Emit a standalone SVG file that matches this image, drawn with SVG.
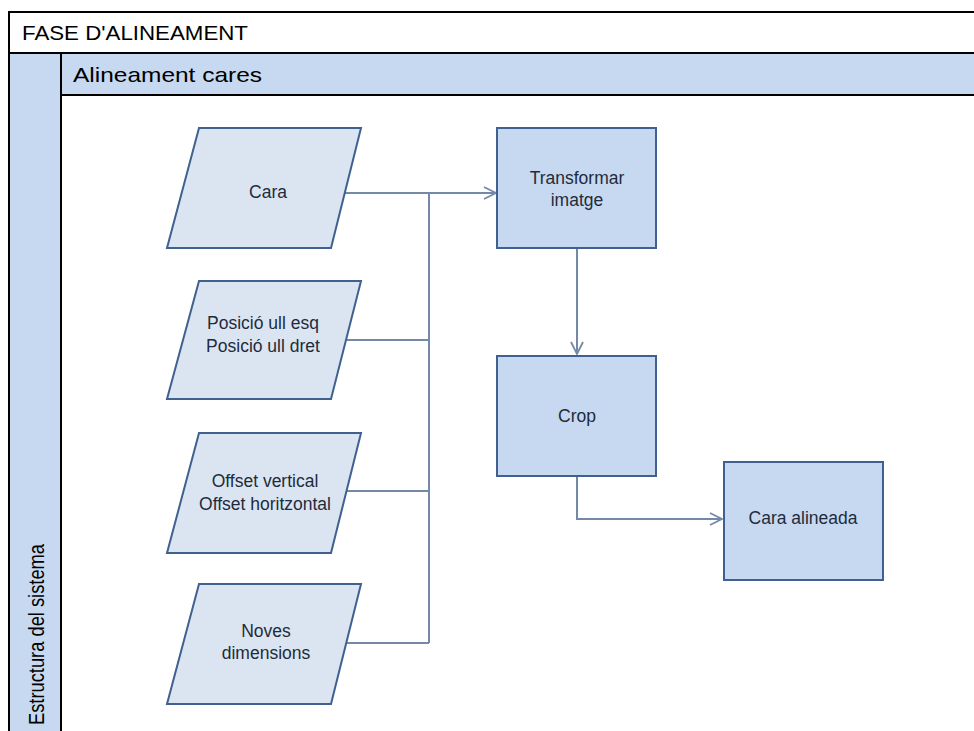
<svg xmlns="http://www.w3.org/2000/svg" width="974" height="731" viewBox="0 0 974 731">
  <style>
    .frame { stroke: #000; stroke-width: 2; fill: none; }
    .band { fill: #c6d9f1; }
    .title { font-family: "Liberation Sans", Arial, sans-serif; fill: #000; }
    .io { fill: #dbe5f2; stroke: #40618f; stroke-width: 2; }
    .proc { fill: #c6d9f1; stroke: #40618f; stroke-width: 2; }
    .lbl { font-family: "Liberation Sans", Arial, sans-serif; font-size: 17.5px; fill: #1f2b3b; text-anchor: middle; }
    .wire { fill: none; stroke: #7489a8; stroke-width: 2; }
  </style>
  <defs>
    <marker id="open-arrow" viewBox="0 0 14 14" refX="13" refY="7" markerWidth="14" markerHeight="14" markerUnits="userSpaceOnUse" orient="auto">
      <path d="M1,1 L13,7 L1,13" fill="none" stroke="#7489a8" stroke-width="1.8"/>
    </marker>
  </defs>

  <rect width="974" height="731" fill="#fff"/>

  <!-- swimlane table -->
  <g id="table">
    <rect class="band" x="9" y="53" width="52" height="678"/>
    <rect class="band" x="61" y="53" width="913" height="42"/>
    <path class="frame" d="M8,12 H974 M9,12 V731 M8,53 H974 M61,95 H974 M61,53 V731"/>
    <text class="title" x="22" y="40" font-size="21" textLength="226" lengthAdjust="spacingAndGlyphs">FASE D'ALINEAMENT</text>
    <text class="title" x="73" y="82" font-size="21" textLength="189" lengthAdjust="spacingAndGlyphs">Alineament cares</text>
    <text class="title" transform="translate(44,725) rotate(-90)" font-size="22" textLength="181" lengthAdjust="spacingAndGlyphs">Estructura del sistema</text>
  </g>

  <!-- connectors -->
  <g id="connectors">
    <path class="wire" d="M344,193 H496" marker-end="url(#open-arrow)"/>
    <path class="wire" d="M429,193 V643"/>
    <path class="wire" d="M345,340 H429"/>
    <path class="wire" d="M345,491 H429"/>
    <path class="wire" d="M346,643 H429"/>
    <path class="wire" d="M577,248 V354" marker-end="url(#open-arrow)"/>
    <path class="wire" d="M577,476 V519 H722" marker-end="url(#open-arrow)"/>
  </g>

  <!-- input data -->
  <g id="cara">
    <polygon class="io" points="199,128 361,128 331,248 167,248"/>
    <text class="lbl" x="268" y="198">Cara</text>
  </g>
  <g id="posicio-ulls">
    <polygon class="io" points="199,281 361,281 331,399 167,399"/>
    <text class="lbl" x="263" y="329">Posició ull esq</text>
    <text class="lbl" x="263" y="352">Posició ull dret</text>
  </g>
  <g id="offsets">
    <polygon class="io" points="199,433 361,433 331,553 167,553"/>
    <text class="lbl" x="265" y="487">Offset vertical</text>
    <text class="lbl" x="265" y="510">Offset horitzontal</text>
  </g>
  <g id="noves-dimensions">
    <polygon class="io" points="199,584 361,584 331,704 167,704"/>
    <text class="lbl" x="266" y="637">Noves</text>
    <text class="lbl" x="266" y="659">dimensions</text>
  </g>

  <!-- processing steps -->
  <g id="transformar-imatge">
    <rect class="proc" x="497" y="128" width="159" height="120"/>
    <text class="lbl" x="577" y="184">Transformar</text>
    <text class="lbl" x="577" y="206">imatge</text>
  </g>
  <g id="crop">
    <rect class="proc" x="497" y="356" width="159" height="120"/>
    <text class="lbl" x="577" y="422">Crop</text>
  </g>
  <g id="cara-alineada">
    <rect class="proc" x="724" y="462" width="159" height="118"/>
    <text class="lbl" x="803" y="524">Cara alineada</text>
  </g>
</svg>
